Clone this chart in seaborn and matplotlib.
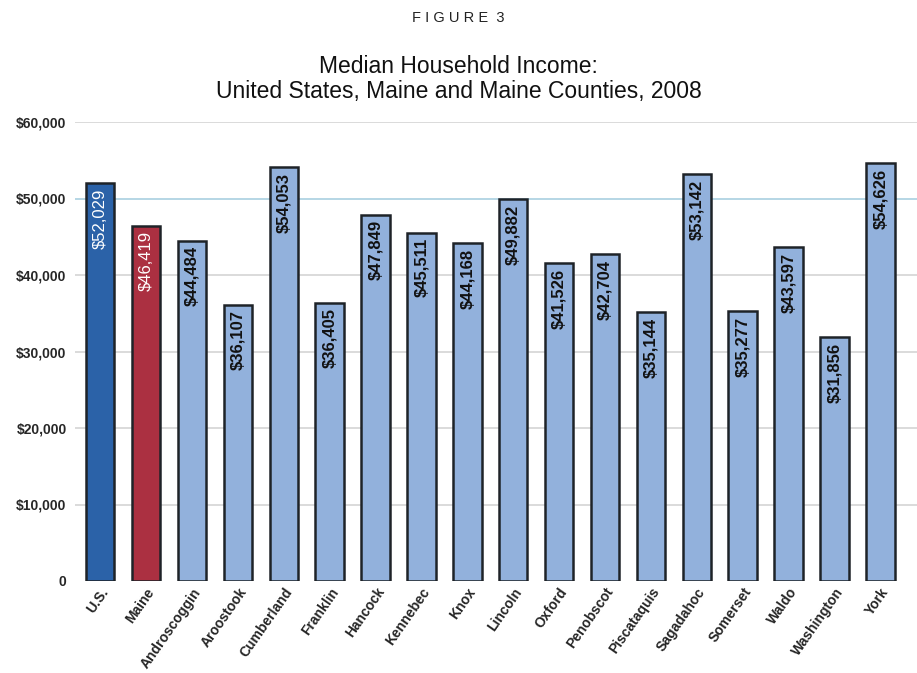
import matplotlib
matplotlib.use("Agg")
import matplotlib.pyplot as plt
import seaborn as sns
import pandas as pd

regions = ["U.S.", "Maine", "Androscoggin", "Aroostook", "Cumberland", "Franklin",
           "Hancock", "Kennebec", "Knox", "Lincoln", "Oxford", "Penobscot",
           "Piscataquis", "Sagadahoc", "Somerset", "Waldo", "Washington", "York"]
income = [52029, 46419, 44484, 36107, 54053, 36405, 47849, 45511, 44168, 49882,
          41526, 42704, 35144, 53142, 35277, 43597, 31856, 54626]
yticks = [0, 10000, 20000, 30000, 40000, 50000, 60000]
ytick_labels = ["0", "$10,000", "$20,000", "$30,000", "$40,000", "$50,000", "$60,000"]

colors = ["#2b62a8", "#ab3041"] + ["#92b1dc"] * (len(regions) - 2)
label_colors = ["white", "white"] + ["#111111"] * (len(regions) - 2)

df = pd.DataFrame({"region": regions, "income": income})

sns.set_theme(style="white")
plt.rcParams['font.family'] = ['Liberation Sans', 'DejaVu Sans']

fig = plt.figure(figsize=(9.17, 6.73), dpi=100)
ax = fig.add_axes([75 / 917, 1 - 581 / 673, 842 / 917, (581 - 122) / 673])

sns.barplot(data=df, x="region", y="income", hue="region", palette=colors,
            saturation=1, legend=False, width=0.62, edgecolor="#1e2328",
            linewidth=1.8, ax=ax, zorder=3)

for i, (v, c) in enumerate(zip(income, label_colors)):
    ax.text(i, v - 700, f"${v:,}", rotation=90, ha="center", va="top",
            color=c, fontsize=12, fontweight="bold" if i >= 2 else "normal",
            zorder=4)

ax.set_ylim(0, 60000)
ax.set_xlim(-0.55, 17.8)
ax.set_yticks(yticks)
ax.set_yticklabels(ytick_labels, fontsize=10, fontweight="bold")
for y in yticks[1:]:
    col = "#a9cfe0" if y == 50000 else "#d4d4d4"
    ax.axhline(y, color=col, lw=1.2, zorder=1)
ax.set_xticks(range(len(regions)))
ax.set_xticklabels(regions, rotation=55, ha="right", rotation_mode="anchor",
                   fontsize=10, fontweight="bold")
ax.tick_params(axis="y", length=0, pad=6)
ax.tick_params(axis="x", length=0, pad=3)
for s in ax.spines.values():
    s.set_visible(False)
ax.set_xlabel("")
ax.set_ylabel("")

fig.text(0.5, 1 - 18 / 673, "F I G U R E  3", ha="center", va="center", fontsize=10.5,
         color="#222222")
fig.text(0.5, 1 - 79 / 673, "Median Household Income:\nUnited States, Maine and Maine Counties, 2008",
         ha="center", va="center", fontsize=16.5, color="#111111", linespacing=1.15)

fig.savefig("out.png", dpi=100)
